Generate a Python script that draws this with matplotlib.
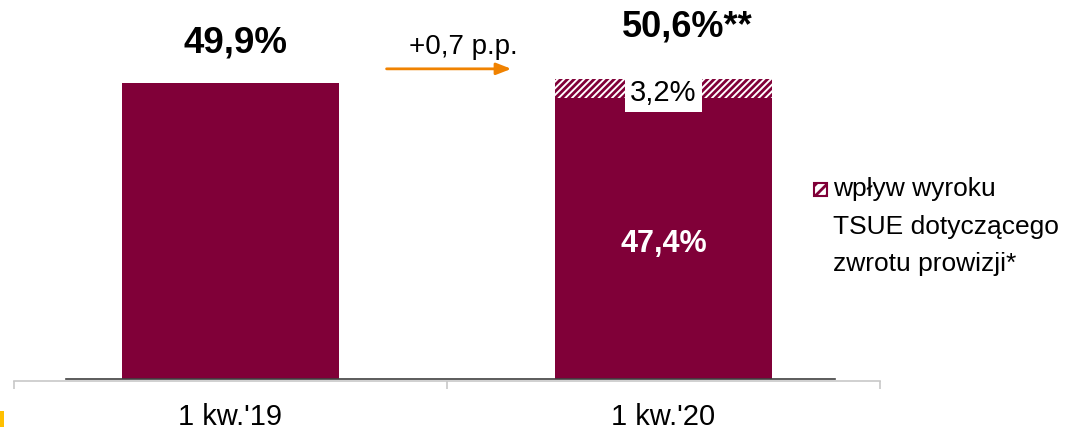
import matplotlib.pyplot as plt
import matplotlib.patches as mpatches
import matplotlib as mpl

# Dane
kategorie = ["1 kw.'19", "1 kw.'20"]
wartosc_bazowa = [49.9, 47.4]
wplyw_tsue = [0.0, 3.2]
etykiety_sum = ["49,9%", "50,6%**"]
zmiana = "+0,7 p.p."
legenda = "wpływ wyroku\nTSUE dotyczącego\nzwrotu prowizji*"

plt.rcParams['font.family'] = ['Liberation Sans', 'DejaVu Sans']
mpl.rcParams['hatch.color'] = '#800038'
mpl.rcParams['hatch.linewidth'] = 2.0

kolor = '#800038'

fig = plt.figure(figsize=(10.69, 4.31), dpi=100)
W, H = 1069, 431
ax = fig.add_axes([14 / W, 1 - 382 / H, (880 - 14) / W, 382 / H])

px = 49.9 / (382 - 2 - 84)  # procent na piksel
ax.set_xlim(-0.5, 1.5)
ax.set_ylim(-2 * px, 382 * px - 2 * px)

x = list(range(len(kategorie)))
ax.bar(x, wartosc_bazowa, width=0.503, color=kolor, zorder=2)
ax.bar(x, wplyw_tsue, bottom=wartosc_bazowa, width=0.503, color='white',
       edgecolor=kolor, hatch='/////', linewidth=0, zorder=2)

# linia bazowa
ax.plot([-0.38, 1.396], [0, 0], color='#404040', lw=1.2, zorder=3)

# osie
for s in ['top', 'right', 'left']:
    ax.spines[s].set_visible(False)
ax.spines['bottom'].set_color('#c8c8c8')
ax.spines['bottom'].set_linewidth(1.2)
ax.set_yticks([])
ax.set_xticks(x)
ax.set_xticklabels(kategorie, fontsize=21)
ax.tick_params(axis='x', which='major', length=0, pad=15)
ax.set_xticks([-0.5, 0.5, 1.5], minor=True)
ax.tick_params(axis='x', which='minor', length=6, color='#c8c8c8', width=1.2)

# etykiety
ax.text(0.012, 49.9 + 41 * px, etykiety_sum[0], ha='center', va='center',
        fontsize=26.5, fontweight='bold')
ax.text(1.054, 50.6 + 53 * px, etykiety_sum[1], ha='center', va='center',
        fontsize=26, fontweight='bold')
ax.text(1, 47.4 / 2 - 5 * px, f"{wartosc_bazowa[1]:.1f}%".replace('.', ','),
        ha='center', va='center', fontsize=22, fontweight='bold', color='white', zorder=4)
ax.text(1, wartosc_bazowa[1] + wplyw_tsue[1] / 2 - 4 * px,
        f"{wplyw_tsue[1]:.1f}%".replace('.', ','), ha='center', va='center',
        fontsize=21, zorder=5,
        bbox=dict(facecolor='white', edgecolor='none', pad=4))

# strzalka zmiany
ax.annotate('', xy=(0.655, 50.6 + 10 * px), xytext=(0.354, 50.6 + 10 * px),
            arrowprops=dict(arrowstyle='-|>,head_length=0.9,head_width=0.35',
                            color='#F08200', lw=2))
ax.text(0.537, 50.6 + 33 * px, zmiana, ha='center', va='center', fontsize=20)

# legenda
fig.patches.append(mpatches.Rectangle((814 / W, 1 - 197 / H), 13 / W, 13 / H,
                                      transform=fig.transFigure, facecolor='white',
                                      edgecolor=kolor, hatch='///', linewidth=1.5))
fig.text(833 / W, 1 - 177 / H, legenda, ha='left', va='top', fontsize=19,
         linespacing=1.72)

# znacznik w rogu
fig.patches.append(mpatches.Rectangle((0, 1 - 428 / H), 4 / W, 16 / H,
                                      transform=fig.transFigure, facecolor='#FFC000',
                                      edgecolor='none'))

fig.savefig('out.png', dpi=100)
